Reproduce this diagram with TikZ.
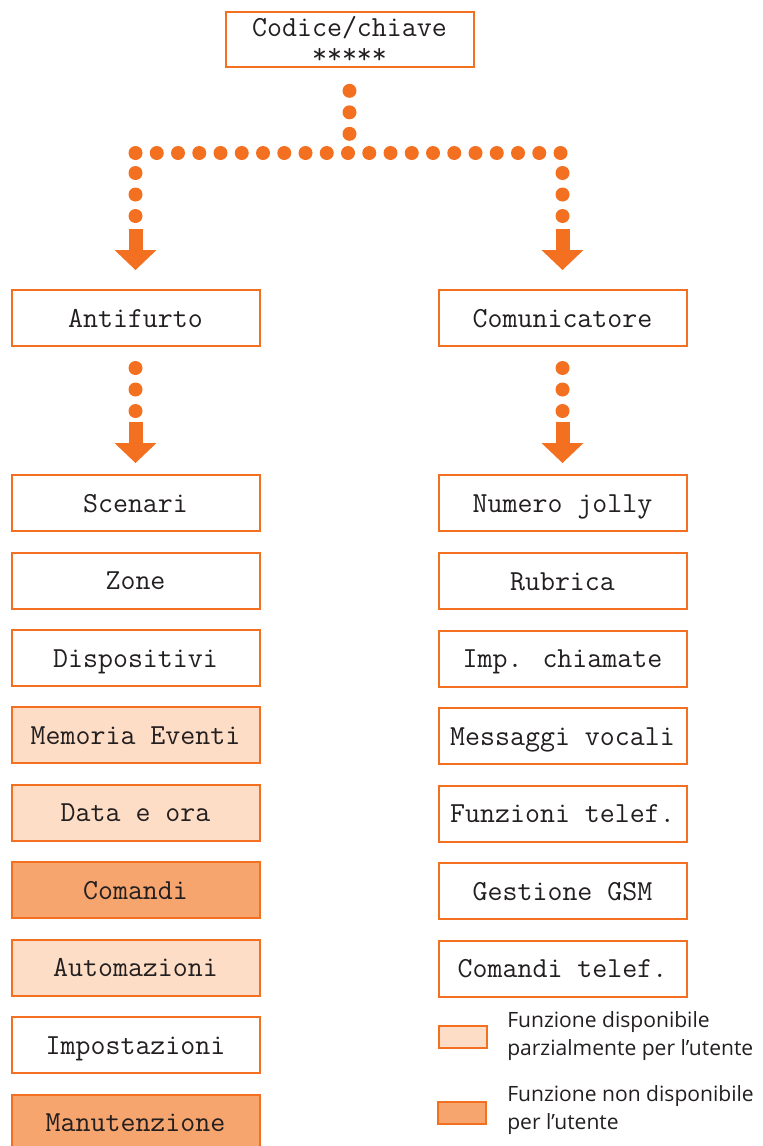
\documentclass[tikz,border=0pt]{standalone}
\usepackage{fontspec}
\newfontfamily\legendfont{Open Sans}
\usetikzlibrary{arrows.meta,calc}
\definecolor{menuorange}{RGB}{243,112,33}
\definecolor{menulight}{RGB}{253,221,197}
\definecolor{menudark}{RGB}{247,165,110}
\definecolor{menutext}{RGB}{35,31,32}

\tikzset{
  menubox/.style={draw=menuorange,line width=1.5pt,minimum width=186pt,minimum height=42pt,
    inner sep=0pt,text=menutext,text height=14pt,text depth=0pt,font=\fontsize{21.8}{20.25}\selectfont\ttfamily},
  partial/.style={menubox,fill=menulight},
  blocked/.style={menubox,fill=menudark},
  dotline/.style={menuorange,line width=10.5pt,line cap=round,dash pattern=on 0pt off 16.125pt},
  busline/.style={dotline,dash pattern=on 0pt off 15.9375pt},
  bigarrow/.style={menuorange,line width=10.5pt,-{Triangle[width=31.5pt,length=15pt,line width=0pt]}},
  keybox/.style={draw=menuorange,line width=1.5pt,minimum width=36pt,minimum height=16.5pt,inner sep=0pt},
  keytext/.style={anchor=west,align=left,inner sep=0pt,text=menutext,font=\legendfont\fontsize{15.8}{21}\selectfont},
}

\begin{document}
\begin{tikzpicture}[x=0.75pt,y=-0.75pt]
    \useasboundingbox (0,0) rectangle (763,1146);

    % Key
    \node[menubox,align=center,text height=,text depth=,minimum height=41pt] (code) at (349.5,39.5) {Codice/chiave\\*****};

    % Branches
    \node[menubox] (anti) at (135.5,318) {Antifurto};
    \node[menubox] (comm) at (562.5,318) {Comunicatore};

    % Antifurto menu
    \node[menubox] (scen) at (135.5,503) {Scenari};
    \node[menubox] (zone) at (135.5,580.5) {Zone};
    \node[menubox] (disp) at (135.5,658) {Dispositivi};
    \node[partial] (memo) at (135.5,735) {Memoria Eventi};
    \node[partial] (data) at (135.5,812.5) {Data e ora};
    \node[blocked] (cmd) at (135.5,890) {Comandi};
    \node[partial] (auto) at (135.5,967.5) {Automazioni};
    \node[menubox] (impo) at (135.5,1045) {Impostazioni};
    \node[blocked] (manu) at (135.5,1122.5) {Manutenzione};

    % Comunicatore menu
    \node[menubox] (jolly) at (562.5,503) {Numero jolly};
    \node[menubox] (rubr) at (562.5,581) {Rubrica};
    \node[menubox] (call) at (562.5,658.5) {Imp. chiamate};
    \node[menubox] (voice) at (562.5,736) {Messaggi vocali};
    \node[menubox] (tel) at (562.5,813.5) {Funzioni telef.};
    \node[menubox] (gsm) at (562.5,891) {Gestione GSM};
    \node[menubox] (ctel) at (562.5,968.5) {Comandi telef.};

    % Dotted connectors
    \coordinate (bus) at (349.5,153);
    \draw[dotline] ($(code.south)+(0,23)$) -- ($(code.south)+(0,67)$);
    \draw[busline] (anti.north |- bus) -- ($(comm.north |- bus)+(1,0)$);
    \draw[dotline] ($(anti.north)+(0,-116)$) -- ($(anti.north)+(0,-72)$);
    \draw[dotline] ($(comm.north)+(0,-116)$) -- ($(comm.north)+(0,-72)$);
    \draw[dotline] ($(anti.south)+(0,21)$) -- ($(anti.south)+(0,65)$);
    \draw[dotline] ($(comm.south)+(0,21)$) -- ($(comm.south)+(0,65)$);

    % Arrows
    \draw[bigarrow] ($(anti.north)+(0,-60)$) -- ($(anti.north)+(0,-19)$);
    \draw[bigarrow] ($(comm.north)+(0,-60)$) -- ($(comm.north)+(0,-19)$);
    \draw[bigarrow] ($(scen.north)+(0,-52)$) -- ($(scen.north)+(0,-11)$);
    \draw[bigarrow] ($(jolly.north)+(0,-52)$) -- ($(jolly.north)+(0,-11)$);

    % Legend
    \node[keybox,fill=menulight] (keyA) at (463,1037) {};
    \node[keybox,fill=menudark] (keyB) at (462,1113) {};
    \node[keytext] (keyAtext) at (507,1036) {Funzione disponibile\\parzialmente per l’utente};
    \node[keytext] (keyBtext) at (507,1110) {Funzione non disponibile\\per l’utente};
\end{tikzpicture}
\end{document}
